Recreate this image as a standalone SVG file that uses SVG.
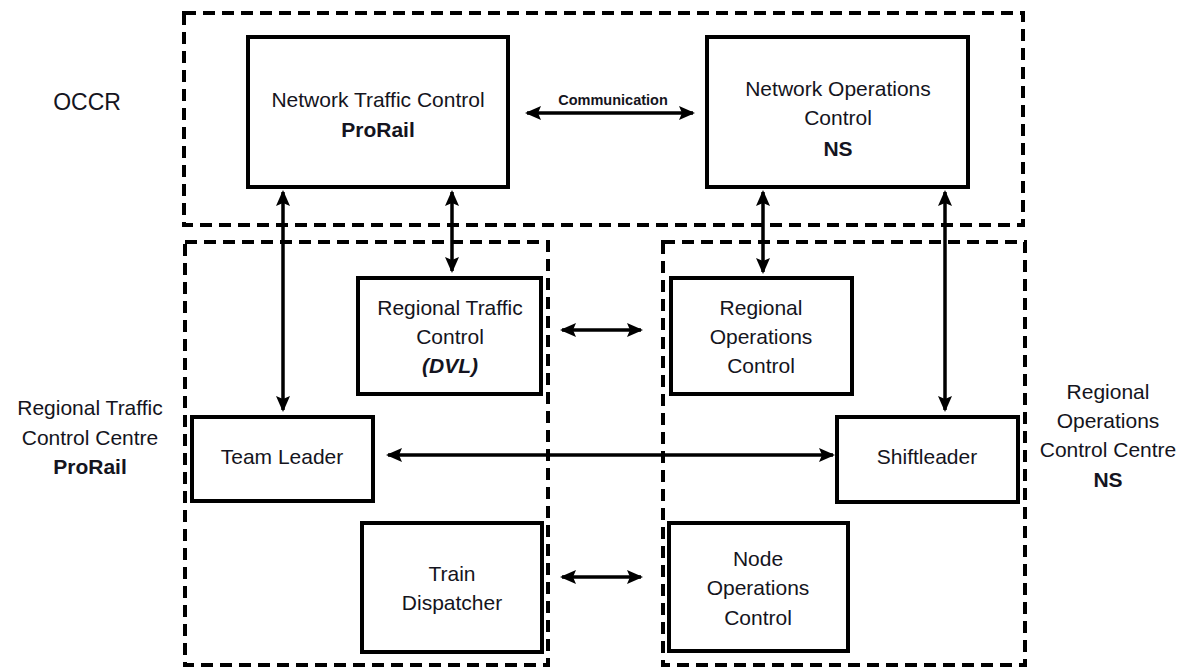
<svg xmlns="http://www.w3.org/2000/svg" width="1192" height="669" viewBox="0 0 1192 669">
<style>
  .region { fill: none; stroke: #000; stroke-width: 4; stroke-dasharray: 12 7; }
  .box { fill: #fff; stroke: #000; stroke-width: 4; }
  .t { font-family: "Liberation Sans", Arial, sans-serif; font-size: 21px; fill: #141420; text-anchor: middle; }
  .b { font-weight: bold; }
  .bi { font-weight: bold; font-style: italic; }
  .conn line { stroke: #000; stroke-width: 3.5; marker-start: url(#ah); marker-end: url(#ah); }
</style>
<defs>
  <marker id="ah" markerUnits="userSpaceOnUse" markerWidth="16" markerHeight="15" refX="14" refY="7" orient="auto-start-reverse" viewBox="0 0 16 14">
    <path d="M0,0 L16,7 L0,14 L3,7 z" fill="#000"/>
  </marker>
</defs>
<rect width="1192" height="669" fill="#fff"/>

<g id="regions">
  <rect id="occr" class="region" x="184" y="13" width="839" height="212"/>
  <rect id="rtcc" class="region" x="185" y="242" width="363" height="423"/>
  <rect id="rocc" class="region" x="663" y="242" width="362" height="423"/>
</g>

<g id="labels">
  <text class="t" x="87" y="110" style="font-size:23px">OCCR</text>
  <g id="label-rtcc">
    <text class="t" x="90" y="415">Regional Traffic</text>
    <text class="t" x="90" y="445">Control Centre</text>
    <text class="t b" x="90" y="474">ProRail</text>
  </g>
  <g id="label-rocc">
    <text class="t" x="1108" y="399">Regional</text>
    <text class="t" x="1108" y="428">Operations</text>
    <text class="t" x="1108" y="457">Control Centre</text>
    <text class="t b" x="1108" y="487">NS</text>
  </g>
</g>

<g id="node-ntc">
  <rect class="box" x="248" y="37" width="260" height="150"/>
  <text class="t" x="378" y="107">Network Traffic Control</text>
  <text class="t b" x="378" y="137">ProRail</text>
</g>
<g id="node-noc">
  <rect class="box" x="707" y="37" width="261" height="150"/>
  <text class="t" x="838" y="96">Network Operations</text>
  <text class="t" x="838" y="125">Control</text>
  <text class="t b" x="838" y="156">NS</text>
</g>
<g id="node-rtc">
  <rect class="box" x="358" y="278" width="183" height="116"/>
  <text class="t" x="450" y="315">Regional Traffic</text>
  <text class="t" x="450" y="344">Control</text>
  <text class="t bi" x="450" y="373">(DVL)</text>
</g>
<g id="node-roc">
  <rect class="box" x="671" y="278" width="181" height="116"/>
  <text class="t" x="761" y="315">Regional</text>
  <text class="t" x="761" y="344">Operations</text>
  <text class="t" x="761" y="373">Control</text>
</g>
<g id="node-teamleader">
  <rect class="box" x="192" y="417" width="181" height="84"/>
  <text class="t" x="282" y="464">Team Leader</text>
</g>
<g id="node-shiftleader">
  <rect class="box" x="837" y="417" width="181" height="85"/>
  <text class="t" x="927" y="464">Shiftleader</text>
</g>
<g id="node-td">
  <rect class="box" x="362" y="523" width="180" height="129"/>
  <text class="t" x="452" y="581">Train</text>
  <text class="t" x="452" y="610">Dispatcher</text>
</g>
<g id="node-nodeoc">
  <rect class="box" x="669" y="523" width="179" height="128"/>
  <text class="t" x="758" y="566">Node</text>
  <text class="t" x="758" y="595">Operations</text>
  <text class="t" x="758" y="625">Control</text>
</g>

<g id="connectors" class="conn">
  <line x1="527" y1="113" x2="693" y2="113"/>
  <line x1="283" y1="192" x2="283" y2="410"/>
  <line x1="452" y1="192" x2="452" y2="271"/>
  <line x1="763" y1="192" x2="763" y2="272"/>
  <line x1="945" y1="192" x2="945" y2="410"/>
  <line x1="388" y1="455" x2="833" y2="455"/>
  <line x1="562" y1="330" x2="641" y2="330"/>
  <line x1="562" y1="577" x2="641" y2="577"/>
  <text class="t b" x="613" y="105" style="font-size:14.5px">Communication</text>
</g>
</svg>
